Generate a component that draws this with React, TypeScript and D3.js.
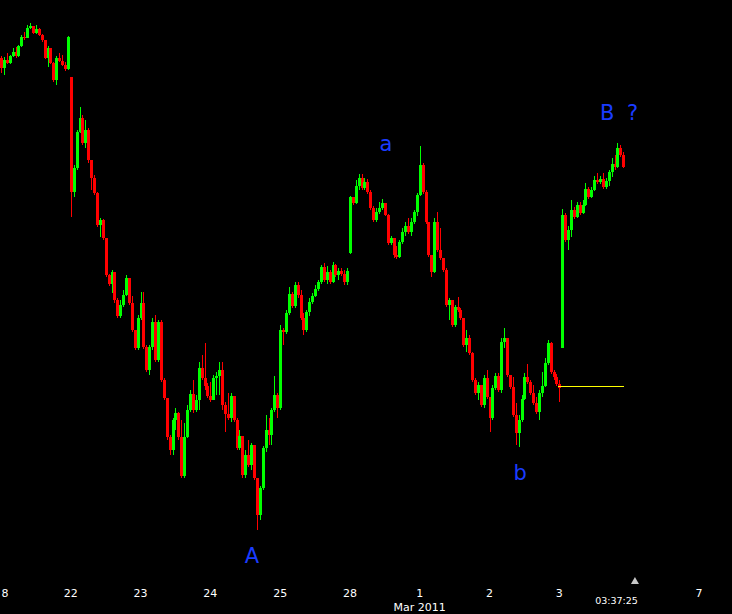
import React from "react";
import * as d3 from "d3";

// Hourly candles, [open, high, low, close] in price points (arbitrary units)
const feb18 = [
  [942, 944, 927, 932], [932, 943, 925, 940], [940, 947, 936, 937], [937, 945, 936, 944],
  [944, 952, 943, 948], [948, 953, 942, 944], [944, 955, 943, 954], [954, 965, 953, 963],
  [963, 968, 960, 962], [962, 975, 962, 972], [972, 977, 971, 974], [974, 974, 966, 967],
  [967, 975, 966, 971], [971, 972, 964, 965], [965, 966, 958, 960], [960, 960, 941, 942],
  [942, 954, 933, 952], [952, 952, 936, 937], [937, 938, 918, 920], [920, 944, 915, 942],
  [942, 947, 938, 939], [939, 945, 934, 935], [935, 938, 929, 931], [931, 964, 930, 963],
];
const feb22 = [
  [923, 923, 783, 808], [808, 835, 803, 832], [832, 870, 830, 868], [868, 893, 867, 882],
  [882, 885, 855, 857], [857, 880, 852, 870], [870, 872, 837, 840], [840, 840, 810, 822],
  [822, 825, 805, 807], [807, 808, 773, 775], [775, 782, 763, 780], [780, 781, 760, 762],
  [762, 762, 723, 725], [725, 726, 714, 716], [716, 730, 707, 728], [728, 728, 697, 700],
  [700, 702, 682, 684], [684, 700, 682, 695], [695, 710, 693, 705], [705, 725, 704, 722],
  [722, 722, 695, 697], [697, 704, 668, 670], [670, 670, 650, 652], [652, 685, 650, 682],
];
const feb23 = [
  [682, 708, 680, 697], [697, 708, 651, 653], [653, 655, 628, 630], [630, 655, 625, 653],
  [653, 682, 650, 678], [678, 685, 638, 640], [640, 680, 638, 678], [678, 680, 618, 620],
  [620, 622, 600, 602], [602, 602, 560, 563], [563, 565, 545, 550], [550, 582, 545, 580],
  [580, 592, 570, 587], [587, 588, 560, 563], [563, 580, 522, 524], [524, 577, 522, 563],
  [563, 595, 562, 590], [590, 610, 588, 606], [606, 620, 587, 590], [590, 605, 588, 600],
  [600, 638, 590, 632], [632, 645, 620, 622], [622, 657, 610, 614], [614, 617, 602, 604],
];
const feb24 = [
  [604, 618, 598, 600], [600, 625, 600, 622], [622, 628, 605, 624], [624, 638, 605, 630],
  [630, 638, 590, 595], [595, 598, 568, 586], [586, 607, 580, 582], [582, 607, 578, 604],
  [604, 604, 578, 580], [580, 582, 550, 552], [552, 570, 550, 564], [564, 564, 522, 525],
  [525, 550, 522, 545], [545, 560, 533, 535], [535, 557, 530, 555], [555, 555, 520, 522],
  [522, 522, 470, 485], [485, 514, 480, 512], [512, 554, 510, 552], [552, 585, 548, 570],
  [570, 582, 555, 565], [565, 592, 555, 590], [590, 624, 588, 605], [605, 607, 582, 592],
];
const feb25 = [
  [592, 675, 590, 670], [670, 672, 655, 668], [668, 690, 666, 687], [687, 713, 685, 706],
  [706, 708, 692, 694], [694, 718, 692, 715], [715, 718, 702, 705], [705, 710, 680, 682],
  [682, 687, 665, 670], [670, 690, 668, 688], [688, 702, 684, 698], [698, 707, 696, 704],
  [704, 715, 703, 711], [711, 720, 709, 718], [718, 735, 716, 733], [733, 737, 718, 720],
  [720, 734, 716, 728], [728, 730, 716, 718], [718, 738, 717, 735], [735, 736, 723, 725],
  [725, 732, 720, 729], [729, 732, 724, 726], [726, 730, 715, 718], [718, 732, 715, 729],
];
const feb28 = [
  [747, 804, 746, 803], [803, 803, 795, 797], [797, 820, 796, 814], [814, 826, 810, 822],
  [822, 826, 810, 812], [812, 822, 810, 818], [818, 821, 806, 808], [808, 810, 790, 792],
  [792, 794, 778, 780], [780, 792, 778, 788], [788, 798, 786, 792], [792, 801, 790, 797],
  [797, 797, 784, 785], [785, 786, 755, 757], [757, 764, 755, 762], [762, 762, 742, 745],
  [745, 754, 741, 743], [743, 760, 742, 758], [758, 772, 756, 768], [768, 778, 764, 774],
  [774, 782, 766, 768], [768, 782, 764, 778], [778, 790, 776, 788], [788, 807, 784, 805],
];
const mar01 = [
  [805, 854, 804, 835], [835, 837, 806, 808], [808, 810, 776, 778], [778, 778, 743, 745],
  [745, 745, 723, 728], [728, 782, 727, 778], [778, 788, 748, 750], [750, 772, 740, 742],
  [742, 742, 728, 730], [730, 732, 693, 695], [695, 702, 680, 700], [700, 700, 673, 675],
  [675, 695, 673, 693], [693, 703, 688, 690], [690, 692, 680, 682], [682, 682, 653, 655],
  [655, 670, 648, 662], [662, 665, 645, 647], [647, 648, 618, 620], [620, 622, 605, 607],
  [607, 618, 600, 615], [615, 615, 593, 595], [595, 625, 592, 622], [622, 630, 601, 603],
];
const mar02 = [
  [603, 603, 568, 582], [582, 615, 580, 612], [612, 627, 610, 624], [624, 627, 608, 610],
  [610, 662, 607, 658], [658, 672, 652, 662], [662, 662, 623, 625], [625, 625, 611, 613],
  [613, 623, 583, 585], [585, 597, 555, 567], [567, 585, 553, 580], [580, 605, 578, 601],
  [601, 627, 600, 623], [623, 636, 616, 618], [618, 620, 605, 607], [607, 615, 595, 597],
  [597, 603, 586, 588], [588, 610, 580, 607], [607, 628, 603, 614], [614, 642, 613, 637],
  [637, 660, 635, 657], [657, 658, 626, 628], [628, 630, 620, 623], [623, 626, 614, 616],
];
const mar03 = [
  [616, 620, 598, 612], [652, 791, 652, 785], [785, 787, 758, 760], [760, 774, 750, 770],
  [770, 800, 763, 790], [790, 793, 781, 783], [783, 798, 782, 795], [795, 798, 785, 787],
  [787, 800, 786, 795], [795, 817, 794, 811], [811, 813, 801, 803], [803, 813, 802, 810],
  [810, 824, 809, 820], [820, 827, 816, 818], [818, 824, 816, 821], [821, 827, 811, 813],
  [813, 822, 811, 819], [819, 830, 814, 828], [828, 842, 823, 836], [836, 845, 830, 833],
  [833, 857, 832, 852], [852, 855, 843, 845], [845, 848, 832, 833],
];

// Day tick labels at bar index where each day starts (first one only partly visible in the original: "8")
const tickBars = [0, 24, 48, 72, 96, 120, 144, 168, 192, 240];
const tickLabels = ["8", "22", "23", "24", "25", "28", "1", "2", "3", "7"];
const monthLabel = { bar: 144, text: "Mar 2011" };
const clockLabel = { bar: 212, text: "03:37:25" };
const nowMarkerBar = 218;

// Horizontal level line
const levelLine = { fromBar: 192, toBar: 214, price: 614 };

// Elliott wave annotations
const waveLabels = [
  { text: "A", bar: 86.3, price: 437, anchor: "middle" },
  { text: "a", bar: 132.4, price: 849, anchor: "middle" },
  { text: "b", bar: 178.5, price: 520, anchor: "middle" },
  { text: "B ?", bar: 206, price: 880, anchor: "start" },
];

const candles = [...feb18, ...feb22, ...feb23, ...feb24, ...feb25, ...feb28, ...mar01, ...mar02, ...mar03];

const W = 732;
const H = 614;

export default function App() {
  const xScale = d3.scaleLinear().domain([0, 240]).range([1, 698.9]);
  const yScale = d3.scaleLinear().domain([470, 970]).range([530, 30]);
  const UP = "#00ff00";
  const DOWN = "#ff0000";
  const BLUE = "#1a3cff";
  const font = "'DejaVu Sans', Verdana, sans-serif";

  return (
    <svg
      width={W}
      height={H}
      style={{ position: "absolute", left: 0, top: 0, display: "block", background: "#000" }}
    >
      <rect x={0} y={0} width={W} height={H} fill="#000" />
      <g shapeRendering="crispEdges">
        {candles.map(([o, h, l, c], i) => {
          const x = Math.round(xScale(i));
          const col = c >= o ? UP : DOWN;
          const yTop = Math.round(yScale(Math.max(o, c)));
          const yBot = Math.round(yScale(Math.min(o, c)));
          const yH = Math.round(yScale(h));
          const yL = Math.round(yScale(l));
          return (
            <g key={i}>
              <rect x={x} y={yH} width={1} height={Math.max(1, yL - yH)} fill={col} />
              <rect x={x - 1} y={yTop} width={3} height={Math.max(1, yBot - yTop)} fill={col} />
            </g>
          );
        })}
        <line
          x1={xScale(levelLine.fromBar) - 1}
          x2={xScale(levelLine.toBar) + 1}
          y1={yScale(levelLine.price) + 0.5}
          y2={yScale(levelLine.price) + 0.5}
          stroke="#ffff00"
          strokeWidth={1}
        />
      </g>

      {waveLabels.map((w, i) => (
        <text
          key={i}
          x={xScale(w.bar)}
          y={yScale(w.price)}
          fill={BLUE}
          fontFamily={font}
          fontSize={21}
          textAnchor={w.anchor}
          wordSpacing={6}
        >
          {w.text}
        </text>
      ))}

      {tickBars.map((b, i) => (
        <text
          key={i}
          x={i === 0 ? 5 : xScale(b)}
          y={597}
          fill="#fff"
          fontFamily={font}
          fontSize={11}
          textAnchor="middle"
        >
          {tickLabels[i]}
        </text>
      ))}
      <text x={xScale(monthLabel.bar)} y={611} fill="#fff" fontFamily={font} fontSize={11} textAnchor="middle">
        {monthLabel.text}
      </text>
      <text x={xScale(clockLabel.bar) - 1} y={604} fill="#fff" fontFamily={font} fontSize={9.5} textAnchor="middle">
        {clockLabel.text}
      </text>
      <path
        d={`M${xScale(nowMarkerBar) - 4},584 L${xScale(nowMarkerBar) + 4},584 L${xScale(nowMarkerBar)},577 Z`}
        fill="#c8c8c8"
      />
    </svg>
  );
}
